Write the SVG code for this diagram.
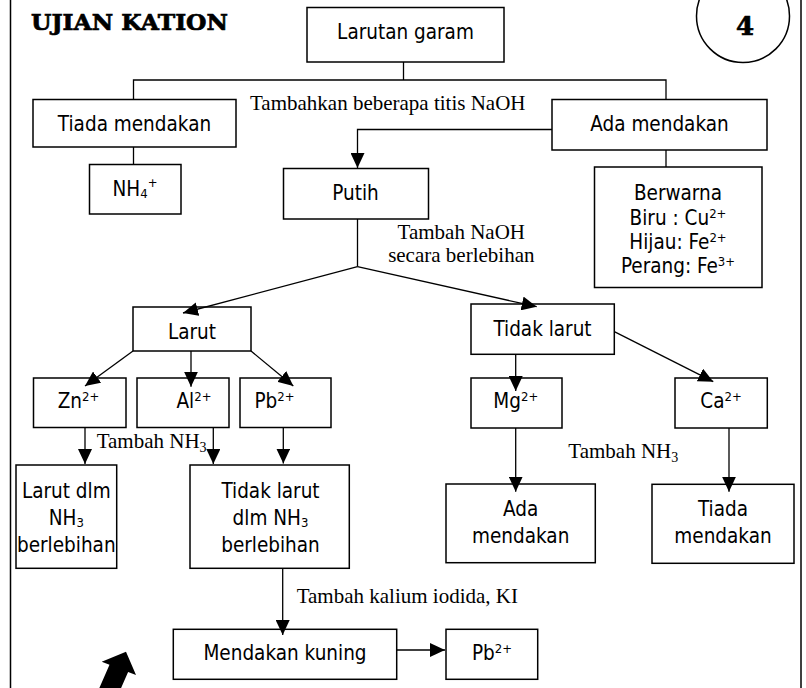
<svg xmlns="http://www.w3.org/2000/svg" width="806" height="688" viewBox="0 0 806 688">
<style>
  .box { fill: #ffffff; stroke: #000000; stroke-width: 1.5; }
  .t { font-family: "DejaVu Sans Condensed", "Liberation Sans", sans-serif; font-size: 20.5px; fill: #000; text-anchor: middle; }
  .s { font-family: "Liberation Serif", "Times New Roman", serif; font-size: 21px; fill: #000; }
  .sup { font-size: 13px; }
  .sub { font-size: 13px; }
  .ssub { font-size: 14px; }
  .c { fill: none; stroke: #000; stroke-width: 1.3; }
  .a { marker-end: url(#ah); }
  .heavy { font-family: "DejaVu Serif", "Liberation Serif", serif; font-weight: bold; fill: #000; stroke: #000; stroke-width: 0.7; }
</style>
<defs>
  <marker id="ah" markerUnits="userSpaceOnUse" markerWidth="15" markerHeight="14" refX="15" refY="7" orient="auto">
    <path d="M0,0 L15,7 L0,14 z" fill="#000"/>
  </marker>
</defs>
<rect x="0" y="0" width="806" height="688" fill="#ffffff"/>

<g id="frame">
  <line x1="10.5" y1="0" x2="10.5" y2="688" stroke="#000" stroke-width="1.5"/>
  <line x1="801" y1="0" x2="801" y2="688" stroke="#000" stroke-width="1.5"/>
</g>

<g id="title">
  <text class="heavy" x="31" y="29.5" font-size="23" textLength="197" lengthAdjust="spacingAndGlyphs">UJIAN KATION</text>
</g>

<g id="badge">
  <circle cx="743" cy="16" r="46.5" fill="none" stroke="#000" stroke-width="1.5"/>
  <text class="heavy" x="745" y="35" font-size="26" text-anchor="middle" stroke-width="0.9">4</text>
</g>

<g id="larutan-garam">
  <rect class="box" x="307" y="7.5" width="197" height="54.5"/>
  <text class="t" x="405.5" y="39">Larutan garam</text>
</g>
<g id="tiada-mendakan-1">
  <rect class="box" x="33" y="99.5" width="203" height="47.5"/>
  <text class="t" x="134.5" y="130.7">Tiada mendakan</text>
</g>
<g id="ada-mendakan-1">
  <rect class="box" x="552" y="99.5" width="215" height="50.5"/>
  <text class="t" x="659.5" y="130.7">Ada mendakan</text>
</g>
<g id="nh4">
  <rect class="box" x="89.5" y="164.5" width="91.5" height="49.5"/>
  <text class="t" x="135" y="195.7">NH<tspan class="sub" dy="2">4</tspan><tspan class="sup" dy="-11">+</tspan></text>
</g>
<g id="putih">
  <rect class="box" x="283.5" y="168.5" width="145" height="50.5"/>
  <text class="t" x="355.5" y="200">Putih</text>
</g>
<g id="berwarna">
  <rect class="box" x="594.5" y="167" width="167.5" height="120.5"/>
  <text class="t" x="678" y="199.5">Berwarna</text>
  <text class="t" x="678" y="224.5">Biru : Cu<tspan class="sup" dy="-7">2+</tspan></text>
  <text class="t" x="678" y="248.5">Hijau: Fe<tspan class="sup" dy="-7">2+</tspan></text>
  <text class="t" x="678" y="272.5">Perang: Fe<tspan class="sup" dy="-7">3+</tspan></text>
</g>
<g id="larut">
  <rect class="box" x="133" y="307" width="118" height="44"/>
  <text class="t" x="192" y="339.3">Larut</text>
</g>
<g id="tidak-larut">
  <rect class="box" x="471" y="304" width="143.3" height="50.3"/>
  <text class="t" x="542.5" y="336">Tidak larut</text>
</g>
<g id="zn">
  <rect class="box" x="33.5" y="378" width="92.5" height="49.5"/>
  <text class="t" x="78.5" y="407.7">Zn<tspan class="sup" dy="-7">2+</tspan></text>
</g>
<g id="al">
  <rect class="box" x="137" y="378" width="92" height="49.5"/>
  <text class="t" x="194" y="407.7">Al<tspan class="sup" dy="-7">2+</tspan></text>
</g>
<g id="pb-1">
  <rect class="box" x="240" y="378" width="91" height="49.5"/>
  <text class="t" x="274.5" y="407.7">Pb<tspan class="sup" dy="-7">2+</tspan></text>
</g>
<g id="mg">
  <rect class="box" x="471" y="378" width="91" height="50"/>
  <text class="t" x="515.8" y="407.7">Mg<tspan class="sup" dy="-7">2+</tspan></text>
</g>
<g id="ca">
  <rect class="box" x="675" y="378" width="92.3" height="50"/>
  <text class="t" x="721" y="407.7">Ca<tspan class="sup" dy="-7">2+</tspan></text>
</g>
<g id="larut-dlm">
  <rect class="box" x="16" y="465" width="100.7" height="103.3"/>
  <text class="t" x="66.3" y="498.3">Larut dlm</text>
  <text class="t" x="66.3" y="525">NH<tspan class="sub" dy="2">3</tspan></text>
  <text class="t" x="66.3" y="551.7">berlebihan</text>
</g>
<g id="tidak-larut-dlm">
  <rect class="box" x="190" y="465" width="159.3" height="103.3"/>
  <text class="t" x="270.5" y="498.3">Tidak larut</text>
  <text class="t" x="270.5" y="525">dlm NH<tspan class="sub" dy="2">3</tspan></text>
  <text class="t" x="270.5" y="551.7">berlebihan</text>
</g>
<g id="ada-mendakan-2">
  <rect class="box" x="446" y="484" width="149.3" height="78.7"/>
  <text class="t" x="520.7" y="515.7">Ada</text>
  <text class="t" x="520.7" y="543.3">mendakan</text>
</g>
<g id="tiada-mendakan-2">
  <rect class="box" x="652" y="484.3" width="142" height="79"/>
  <text class="t" x="723" y="515.7">Tiada</text>
  <text class="t" x="723" y="543.3">mendakan</text>
</g>
<g id="mendakan-kuning">
  <rect class="box" x="173.3" y="629.3" width="223.4" height="50"/>
  <text class="t" x="285" y="660">Mendakan kuning</text>
</g>
<g id="pb-2">
  <rect class="box" x="446" y="629.3" width="91.7" height="50"/>
  <text class="t" x="492" y="660">Pb<tspan class="sup" dy="-7">2+</tspan></text>
</g>

<g id="connectors">
  <path class="c" d="M403.5,62 V80"/>
  <path class="c" d="M133.5,99.5 V80 H666 V99.5"/>
  <path class="c" d="M133.5,147 V164.5"/>
  <path class="c a" d="M552,129.5 H357.5 V168"/>
  <path class="c" d="M666,150 V167"/>
  <path class="c" d="M357.5,219 V266.7"/>
  <path class="c a" d="M357.5,266.7 L183,313"/>
  <path class="c a" d="M357.5,266.7 L536.7,306.7"/>
  <path class="c a" d="M133,351 L85,386"/>
  <path class="c a" d="M191,351 V386.7"/>
  <path class="c a" d="M251,351 L293.3,386"/>
  <path class="c a" d="M515.7,354.3 V391"/>
  <path class="c a" d="M614.3,331.7 L713.3,381.7"/>
  <path class="c a" d="M85,427.5 V464"/>
  <path class="c a" d="M213.3,427.5 V464"/>
  <path class="c a" d="M283.3,427.5 V463.5"/>
  <path class="c a" d="M515.7,428 V491.7"/>
  <path class="c a" d="M729,428 V491.7"/>
  <path class="c a" d="M282.7,568.3 V635"/>
  <path class="c a" d="M396.7,650 H445"/>
  <text class="s" x="250" y="110">Tambahkan beberapa titis NaOH</text>
  <text class="s" x="461.3" y="239" text-anchor="middle">Tambah NaOH</text>
  <text class="s" x="461.3" y="262.3" text-anchor="middle">secara berlebihan</text>
  <text class="s" x="96.7" y="448.3">Tambah NH<tspan class="ssub" dy="4">3</tspan></text>
  <text class="s" x="568.3" y="458.3">Tambah NH<tspan class="ssub" dy="4">3</tspan></text>
  <text class="s" x="296.7" y="603.3">Tambah kalium iodida, KI</text>
</g>

<g id="block-arrow">
  <polygon points="126,651.7 136,675 128.1,671.9 114.3,703.6 95.7,696.4 109.5,664.7 101.7,661.7" fill="#000"/>
</g>
</svg>
